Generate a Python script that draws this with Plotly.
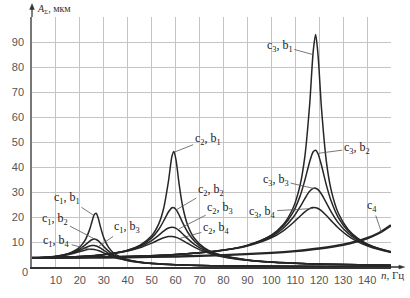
import plotly.graph_objects as go

# ---------------- data ----------------
N_C1 = [0, 5, 10, 15, 18, 20, 22, 24, 25, 26, 26.8, 27.6, 28.5, 30, 32, 34, 37, 40, 45, 50, 60, 75, 100, 150]
C1_B1 = [3.70, 3.83, 4.29, 5.34, 6.60, 8.02, 10.41, 14.75, 17.93, 20.91, 21.51, 19.76, 16.45, 11.64, 7.83, 5.71, 3.95, 2.95, 2.01, 1.48, 0.92, 0.54, 0.29, 0.12]
C1_B2 = [3.70, 3.83, 4.25, 5.20, 6.23, 7.27, 8.66, 10.27, 10.91, 11.17, 11.01, 10.53, 9.72, 8.16, 6.33, 4.97, 3.64, 2.79, 1.94, 1.45, 0.91, 0.54, 0.29, 0.12]
C1_B3 = [3.70, 3.82, 4.22, 5.07, 5.94, 6.71, 7.60, 8.39, 8.60, 8.59, 8.41, 8.09, 7.62, 6.68, 5.47, 4.48, 3.39, 2.66, 1.88, 1.42, 0.90, 0.53, 0.28, 0.12]
C1_B4 = [3.70, 3.81, 4.19, 4.93, 5.62, 6.18, 6.72, 7.08, 7.11, 7.02, 6.85, 6.61, 6.28, 5.65, 4.79, 4.03, 3.15, 2.52, 1.82, 1.38, 0.88, 0.53, 0.28, 0.12]

N_C2 = [0, 10, 20, 30, 40, 45, 50, 53, 55, 57, 58.5, 59.3, 60.2, 61.5, 63, 65, 68, 72, 76, 80, 90, 100, 115, 130, 150]
C2_B1 = [3.70, 3.81, 4.17, 4.97, 6.76, 8.64, 12.47, 17.33, 23.39, 34.20, 44.39, 46.25, 42.62, 32.96, 23.99, 16.84, 11.28, 7.64, 5.69, 4.47, 2.83, 2.00, 1.34, 0.97, 0.69]
C2_B2 = [3.70, 3.81, 4.17, 4.95, 6.67, 8.40, 11.65, 15.11, 18.40, 22.01, 23.69, 23.72, 22.94, 20.72, 17.63, 14.00, 10.22, 7.25, 5.50, 4.37, 2.79, 1.99, 1.33, 0.97, 0.68]
C2_B3 = [3.70, 3.81, 4.16, 4.91, 6.52, 8.05, 10.57, 12.75, 14.34, 15.58, 15.92, 15.81, 15.45, 14.56, 13.22, 11.34, 8.94, 6.69, 5.22, 4.21, 2.74, 1.96, 1.32, 0.96, 0.68]
C2_B4 = [3.70, 3.80, 4.15, 4.87, 6.35, 7.65, 9.55, 10.90, 11.69, 12.18, 12.21, 12.09, 11.85, 11.34, 10.58, 9.46, 7.85, 6.14, 4.92, 4.03, 2.67, 1.93, 1.31, 0.96, 0.68]

N_C3 = [0, 20, 40, 60, 80, 90, 100, 105, 109, 112, 114, 116, 117.5, 118.5, 119.5, 121, 123, 125, 128, 132, 136, 140, 145, 150]
C3_B1 = [3.70, 3.81, 4.18, 4.97, 6.79, 8.72, 12.77, 16.99, 23.39, 32.68, 44.16, 64.80, 86.27, 92.96, 84.96, 62.90, 42.18, 30.75, 21.48, 15.11, 11.55, 9.28, 7.41, 6.12]
C3_B2 = [3.70, 3.81, 4.17, 4.97, 6.77, 8.66, 12.52, 16.37, 21.73, 28.35, 34.71, 42.03, 46.07, 46.72, 45.30, 40.49, 32.77, 26.36, 19.73, 14.43, 11.21, 9.10, 7.30, 6.06]
C3_B3 = [3.70, 3.81, 4.17, 4.96, 6.73, 8.56, 12.16, 15.50, 19.68, 24.02, 27.35, 30.27, 31.46, 31.52, 30.93, 29.09, 25.63, 22.09, 17.66, 13.50, 10.74, 8.82, 7.15, 5.96]
C3_B4 = [3.70, 3.81, 4.17, 4.95, 6.68, 8.42, 11.69, 14.48, 17.58, 20.33, 22.08, 23.37, 23.78, 23.72, 23.39, 22.44, 20.61, 18.55, 15.60, 12.46, 10.16, 8.47, 6.95, 5.84]

N_C4 = [0, 20, 40, 60, 80, 100, 110, 120, 130, 140, 145, 150]
C4 = [3.70, 3.75, 3.92, 4.23, 4.75, 5.66, 6.37, 7.38, 8.91, 11.50, 13.58, 16.70]

X_TICKS = list(range(0, 151, 10))
X_TICKTEXT = [""] + [str(v) for v in range(10, 141, 10)] + [""]
Y_TICKS = list(range(0, 101, 10))
Y_TICKTEXT = [""] + [str(v) for v in range(10, 91, 10)] + [""]

# labels: text, tip (n, A), text offset in px
LABELS = [
    ("c<sub>1</sub>, b<sub>1</sub>", 26.0, 20.5, -27, -18),
    ("c<sub>1</sub>, b<sub>2</sub>", 26.5, 11.0, -40, -21),
    ("c<sub>1</sub>, b<sub>3</sub>", 27.5, 8.0, 29, -20),
    ("c<sub>1</sub>, b<sub>4</sub>", 24.5, 6.9, -34, -9),
    ("c<sub>2</sub>, b<sub>1</sub>", 59.6, 46.0, 33, -13),
    ("c<sub>2</sub>, b<sub>2</sub>", 60.5, 23.0, 34, -20),
    ("c<sub>2</sub>, b<sub>3</sub>", 61.5, 15.3, 41, -21),
    ("c<sub>2</sub>, b<sub>4</sub>", 62.0, 11.5, 36, -10),
    ("c<sub>3</sub>, b<sub>1</sub>", 117.3, 85.0, -33, -9),
    ("c<sub>3</sub>, b<sub>2</sub>", 119.8, 45.5, 38, -5),
    ("c<sub>3</sub>, b<sub>3</sub>", 118.3, 31.3, -39, -9),
    ("c<sub>3</sub>, b<sub>4</sub>", 117.5, 23.4, -51, 3),
    ("c<sub>4</sub>", 146.0, 14.0, -9, -26),
]

LINE_COLOR = "#262626"
GRID_COLOR = "#c4c4c4"
SERIF = "Liberation Serif"
SANS = "Liberation Sans"

fig = go.Figure()

series = [
    (N_C1, C1_B1), (N_C1, C1_B2), (N_C1, C1_B3), (N_C1, C1_B4),
    (N_C2, C2_B1), (N_C2, C2_B2), (N_C2, C2_B3), (N_C2, C2_B4),
    (N_C3, C3_B1), (N_C3, C3_B2), (N_C3, C3_B3), (N_C3, C3_B4),
]
for xs, ys in series:
    fig.add_trace(go.Scatter(x=xs, y=ys, mode="lines",
                             line=dict(color=LINE_COLOR, width=1.5, shape="spline", smoothing=0.8),
                             hoverinfo="skip"))
fig.add_trace(go.Scatter(x=N_C4, y=C4, mode="lines",
                         line=dict(color=LINE_COLOR, width=2.4, shape="spline", smoothing=0.8),
                         hoverinfo="skip"))

for text, n, a, ax, ay in LABELS:
    fig.add_annotation(x=n, y=a, xref="x", yref="y", text=text, showarrow=True,
                       ax=ax, ay=ay, arrowhead=0, arrowwidth=0.8, arrowcolor="#555",
                       standoff=0, font=dict(family=SERIF, size=12, color="#1a1a1a"))

# axis titles and origin label
fig.add_annotation(xref="paper", yref="paper", x=0.008, y=1.03, xanchor="left", yanchor="middle",
                   text="<i>A</i><sub>Σ</sub>, мкм", showarrow=False,
                   font=dict(family=SERIF, size=10, color="#333"))
fig.add_annotation(xref="paper", yref="paper", x=1.043, y=-0.032, xanchor="right", yanchor="middle",
                   text="<i>n</i>, Гц", showarrow=False,
                   font=dict(family=SERIF, size=11, color="#333"))
fig.add_annotation(xref="paper", yref="paper", x=-0.019, y=-0.02, xanchor="center", yanchor="middle",
                   text="0", showarrow=False, font=dict(family=SANS, size=11, color="#555"))

# axis arrows
fig.add_shape(type="line", xref="paper", yref="paper", x0=0, x1=0, y0=1, y1=1.04,
              line=dict(color="#555", width=1.5))
fig.add_shape(type="path", xref="paper", yref="paper",
              path="M -0.0065,1.03 L 0.0065,1.03 L 0,1.053 Z",
              fillcolor="#333", line=dict(color="#333", width=0.5))
fig.add_shape(type="line", xref="paper", yref="paper", x0=1, x1=1.03, y0=0, y1=0,
              line=dict(color="#333", width=1.5))
fig.add_shape(type="path", xref="paper", yref="paper",
              path="M 1.022,-0.0075 L 1.022,0.0075 L 1.038,0 Z",
              fillcolor="#333", line=dict(color="#333", width=0.5))

fig.update_xaxes(range=[0, 150], tickvals=X_TICKS, ticktext=X_TICKTEXT,
                 showgrid=True, gridcolor=GRID_COLOR, gridwidth=1,
                 showline=True, linecolor="#333", linewidth=1.5,
                 ticks="", zeroline=False, ticklabelstandoff=2,
                 tickfont=dict(family=SANS, size=11, color="#555"))
fig.update_yaxes(range=[0, 100], tickvals=Y_TICKS, ticktext=Y_TICKTEXT,
                 showgrid=True, gridcolor=GRID_COLOR, gridwidth=1,
                 showline=True, linecolor="#777", linewidth=1.5,
                 ticks="", zeroline=False, ticklabelstandoff=4,
                 tickfont=dict(family=SANS, size=11, color="#555"))

fig.update_layout(width=410, height=298, margin=dict(l=18, r=19, t=17, b=14),
                  paper_bgcolor="white", plot_bgcolor="white", showlegend=False)

fig.write_html("out.html", config={"displayModeBar": False},
               post_script="document.body.style.margin='0';")
